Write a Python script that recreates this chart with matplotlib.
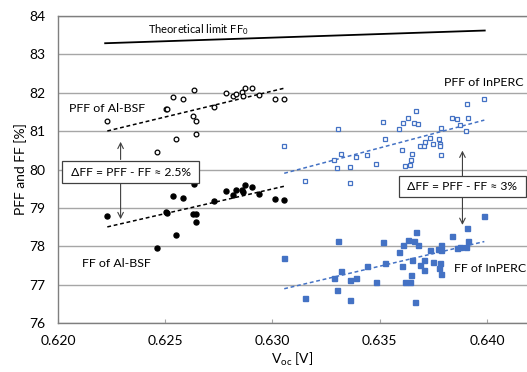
import numpy as np
import matplotlib
matplotlib.use("Agg")
import matplotlib.pyplot as plt

plt.rcParams['font.family'] = ['Lato', 'DejaVu Sans']
plt.rcParams['mathtext.fontset'] = 'custom'
plt.rcParams['mathtext.rm'] = 'Lato'
plt.rcParams['mathtext.it'] = 'Lato:italic'

# ---------------- data ----------------
albsf_voc = [0.62230, 0.62460, 0.62505, 0.62510, 0.62535, 0.62552, 0.62582, 0.62633,
             0.62628, 0.62645, 0.62645, 0.62728, 0.62782, 0.62815, 0.62830, 0.62857,
             0.62863, 0.62874, 0.62905, 0.62937, 0.63013, 0.63055]
albsf_pff = [81.27, 80.46, 81.57, 81.57, 81.88, 80.78, 81.82, 82.06,
             81.39, 81.27, 80.91, 81.63, 81.99, 81.90, 81.96, 82.01,
             81.90, 82.12, 82.12, 81.94, 81.82, 81.82]
albsf_ff = [78.80, 77.96, 78.90, 78.88, 79.32, 78.31, 79.26, 79.63,
            78.84, 78.84, 78.64, 79.18, 79.45, 79.33, 79.48, 79.48,
            79.41, 79.60, 79.55, 79.37, 79.24, 79.20]

inperc_pff_voc = [0.63055, 0.63307, 0.63153, 0.63289, 0.63319, 0.63303, 0.63362, 0.63362,
                  0.63390, 0.63441, 0.63482, 0.63516, 0.63524, 0.63592, 0.63604, 0.63610,
                  0.63634, 0.63662, 0.63680, 0.63668, 0.63652, 0.63648, 0.63618, 0.63640,
                  0.63688, 0.63706, 0.63710, 0.63736, 0.63749, 0.63776, 0.63780, 0.63780,
                  0.63788, 0.63785, 0.63836, 0.63862, 0.63874, 0.63906, 0.63912, 0.63904,
                  0.63988]
inperc_pff = [80.61, 81.06, 79.71, 80.24, 80.40, 80.03, 80.06, 79.66,
              80.32, 80.38, 80.14, 81.23, 80.79, 81.05, 80.51, 81.20,
              81.35, 81.20, 81.17, 81.52, 80.40, 80.25, 80.10, 80.11,
              80.61, 80.61, 80.72, 80.83, 80.67, 80.79, 80.66, 80.60,
              80.37, 81.09, 81.34, 81.30, 81.15, 81.70, 81.34, 80.99,
              81.82]

inperc_ff_voc = [0.63055, 0.63153, 0.63307, 0.63289, 0.63319, 0.63303, 0.63362, 0.63362,
                 0.63390, 0.63441, 0.63482, 0.63516, 0.63524, 0.63592, 0.63606, 0.63610,
                 0.63634, 0.63662, 0.63680, 0.63668, 0.63652, 0.63648, 0.63618, 0.63640,
                 0.63666, 0.63688, 0.63706, 0.63708, 0.63736, 0.63749, 0.63772, 0.63786,
                 0.63786, 0.63780, 0.63778, 0.63788, 0.63836, 0.63862, 0.63874, 0.63906,
                 0.63912, 0.63904, 0.63988]
inperc_ff = [77.69, 76.65, 78.15, 77.19, 77.37, 76.88, 77.14, 76.62,
             77.19, 77.49, 77.08, 78.12, 77.58, 77.87, 77.50, 78.04,
             78.17, 78.13, 78.04, 78.38, 77.64, 77.27, 77.07, 77.08,
             76.57, 77.52, 77.40, 77.65, 77.91, 77.61, 77.94, 77.92,
             78.05, 77.57, 77.45, 77.29, 78.26, 77.96, 77.99, 78.49,
             78.13, 77.99, 78.80]

ff0_voc = [0.6222, 0.6399]
ff0 = [83.28, 83.61]

x_ticks = [0.620, 0.625, 0.630, 0.635, 0.640]
y_ticks = [76, 77, 78, 79, 80, 81, 82, 83, 84]

# ---------------- figure ----------------
blue = '#4472C4'
fig = plt.figure(figsize=(5.27, 3.72), dpi=100)
ax = fig.add_axes([0.110, 0.1304, 0.890, 0.8279])
ax.set_xlim(0.620, 0.64187)
ax.set_ylim(76, 84)
ax.set_xticks(x_ticks)
ax.set_xticklabels([f'{v:.3f}' for v in x_ticks])
ax.set_yticks(y_ticks)
ax.set_yticklabels([str(v) for v in y_ticks])
ax.grid(axis='y', color='#a6a6a6', lw=1.0, zorder=0)
ax.set_axisbelow(True)
ax.spines['right'].set_visible(False)
for s in ['top', 'left', 'bottom']:
    ax.spines[s].set_color('#7f7f7f')
    ax.spines[s].set_linewidth(1.0)
ax.tick_params(axis='x', direction='in', length=3, color='#a6a6a6', pad=8, labelsize=10)
ax.tick_params(axis='y', length=0, pad=9, labelsize=10)

def trend(xs, ys, color):
    xs = np.asarray(xs); ys = np.asarray(ys)
    p = np.polyfit(xs, ys, 1)
    xx = np.array([xs.min(), xs.max()])
    ax.plot(xx, np.polyval(p, xx), ls=(0, (2.5, 1.8)), color=color, lw=1.1, zorder=2)

ax.plot(albsf_voc, albsf_pff, 'o', ms=3.4, mfc='white', mec='black', mew=0.9, ls='none', zorder=3)
ax.plot(albsf_voc, albsf_ff, 'o', ms=3.6, mfc='black', mec='black', ls='none', zorder=3)
ax.plot(inperc_pff_voc, inperc_pff, 's', ms=3.3, mfc='white', mec=blue, mew=0.9, ls='none', zorder=3)
ax.plot(inperc_ff_voc, inperc_ff, 's', ms=3.6, mfc=blue, mec=blue, ls='none', zorder=3)
trend(albsf_voc, albsf_pff, 'black')
trend(albsf_voc, albsf_ff, 'black')
trend(inperc_pff_voc, inperc_pff, blue)
trend(inperc_ff_voc, inperc_ff, blue)

ax.plot(ff0_voc, ff0, color='black', lw=1.3, zorder=2)
ax.text(0.62418, 83.64, 'Theoretical limit FF$_0$', fontsize=8.0, va='center', ha='left')

ax.text(0.62053, 81.59, 'PFF of Al-BSF', fontsize=8.9, va='center', ha='left')
ax.text(0.62112, 77.56, 'FF of Al-BSF', fontsize=8.9, va='center', ha='left')
ax.text(0.63802, 82.27, 'PFF of InPERC', fontsize=8.9, va='center', ha='left')
ax.text(0.63848, 77.42, 'FF of InPERC', fontsize=8.9, va='center', ha='left')

box = dict(boxstyle='square,pad=0.45', fc='white', ec='#404040', lw=0.9)
ax.text(0.62340, 79.93, ' ΔFF = PFF - FF ≈ 2.5% ', fontsize=8.7, ha='center', va='center',
        bbox=box, zorder=5)
ax.text(0.63885, 79.56, ' ΔFF = PFF - FF ≈ 3% ', fontsize=8.7, ha='center', va='center',
        bbox=box, zorder=5)

arr = dict(arrowstyle='->', color='#404040', lw=0.8, shrinkA=0, shrinkB=0)
ax.annotate('', xy=(0.62292, 80.72), xytext=(0.62292, 80.26), arrowprops=arr, zorder=4)
ax.annotate('', xy=(0.62292, 78.71), xytext=(0.62292, 79.66), arrowprops=arr, zorder=4)
ax.annotate('', xy=(0.63886, 80.49), xytext=(0.63886, 79.81), arrowprops=arr, zorder=4)
ax.annotate('', xy=(0.63886, 78.56), xytext=(0.63886, 79.31), arrowprops=arr, zorder=4)

ax.set_xlabel('V$_{\\mathrm{oc}}$ [V]', fontsize=10, labelpad=3)
ax.set_ylabel('PFF and FF [%]', fontsize=10, labelpad=2)

fig.savefig('out.png', dpi=100)
